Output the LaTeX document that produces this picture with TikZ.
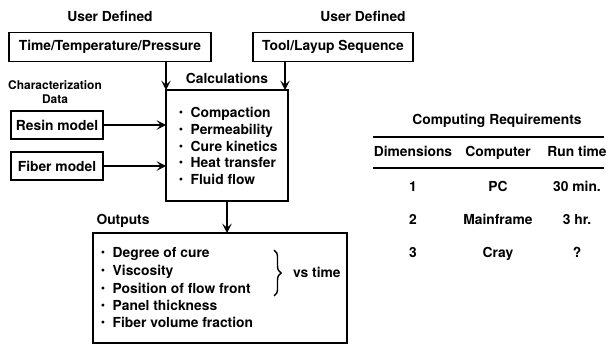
\documentclass[tikz,border=0pt]{standalone}
\usepackage{fontspec}
\setmainfont{TeX Gyre Heros}
\usepackage{tikz}
\usetikzlibrary{arrows.meta,positioning,decorations.pathreplacing}

\newcommand{\bul}{\raisebox{0.22em}{\scalebox{0.55}{$\bullet$}}\hspace{0.55em}}

\begin{document}
\begin{tikzpicture}[
    x=0.03cm, y=-0.03cm,
    font=\bfseries\fontsize{11.8}{13}\selectfont,
    inbox/.style={rectangle, draw, line width=1.2pt, inner sep=0pt, minimum height=0.87cm},
    item/.style={anchor=base west, inner sep=0pt},
    tab/.style={anchor=base, inner sep=0pt},
    arrow/.style={-{Stealth[length=8pt,width=8pt,inset=3.5pt]}, line width=1.2pt}
]
    \useasboundingbox (0,0) rectangle (609,346);

    % user inputs
    \node (userL) at (110,16) {User Defined};
    \node (userR) at (363,16) {User Defined};
    \node[inbox, minimum width=6.05cm] (ttp) at (110,47) {Time/Temperature/Pressure};
    \node[inbox, minimum width=4.8cm] (tool) at (333,47) {Tool/Layup Sequence};

    % material models
    \node[align=center, font=\bfseries\fontsize{10.2}{12}\selectfont] (charac) at (55,92) {Characterization\\Data};
    \node[inbox, minimum width=2.75cm, minimum height=0.84cm] (resin) at (57,125) {Resin model};
    \node[inbox, minimum width=2.75cm, minimum height=0.84cm] (fiber) at (57,166) {Fiber model};

    % calculation block
    \draw[line width=1.2pt] (166,90) rectangle (288,201);
    \coordinate (calcTL) at (166,90);
    \coordinate (calcTR) at (285,90);
    \coordinate (calcR) at (166,125);
    \coordinate (calcF) at (166,166);
    \coordinate (calcB) at (227,201);
    \node (calc) at (227,78) {Calculations};
    \node[item] (c1) at (179,118) {\bul Compaction};
    \node[item] (c2) at (179,135) {\bul Permeability};
    \node[item] (c3) at (179,152) {\bul Cure kinetics};
    \node[item] (c4) at (179,168) {\bul Heat transfer};
    \node[item] (c5) at (179,185) {\bul Fluid flow};

    % outputs block
    \draw[line width=1.2pt] (93,233) rectangle (347,343);
    \coordinate (outT) at (227,233);
    \node (outp) at (123,221) {Outputs};
    \node[item] (o1) at (101,258) {\bul Degree of cure};
    \node[item] (o2) at (101,276) {\bul Viscosity};
    \node[item] (o3) at (101,294) {\bul Position of flow front};
    \node[item] (o4) at (101,311) {\bul Panel thickness};
    \node[item] (o5) at (101,328) {\bul Fiber volume fraction};
    \coordinate (brTop) at (274,250);
    \coordinate (brBot) at (274,296);
    \draw[line width=1.2pt, decorate, decoration={brace, amplitude=6pt}] (brTop) -- (brBot);
    \node[anchor=west] (vst) at (289,272) {vs time};

    % connectors
    \draw[arrow] (ttp.south -| calcTL) -- (calcTL);
    \draw[arrow] (tool.south -| calcTR) -- (calcTR);
    \draw[arrow] (resin.east) -- (calcR);
    \draw[arrow] (fiber.east) -- (calcF);
    \draw[arrow] (calcB) -- (outT);

    % computing requirements table
    \node[tab] (treq) at (497,125) {Computing Requirements};
    \coordinate (r1a) at (373,137);
    \coordinate (r1b) at (604,137);
    \coordinate (r2a) at (373,168);
    \coordinate (r2b) at (604,168);
    \draw[line width=1.1pt] (r1a) -- (r1b);
    \draw[line width=1.1pt] (r2a) -- (r2b);
    \node[tab] (hdim) at (413,157) {Dimensions};
    \node[tab] (hcomp) at (498,157) {Computer};
    \node[tab] (hrun) at (577,157) {Run time};
    \node[tab] (d1) at (413,192) {1};
    \node[tab] (m1) at (498,192) {PC};
    \node[tab] (t1) at (577,192) {30 min.};
    \node[tab] (d2) at (413,225) {2};
    \node[tab] (m2) at (498,225) {Mainframe};
    \node[tab] (t2) at (577,225) {3 hr.};
    \node[tab] (d3) at (413,258) {3};
    \node[tab] (m3) at (498,258) {Cray};
    \node[tab] (t3) at (577,258) {?};
\end{tikzpicture}
\end{document}
